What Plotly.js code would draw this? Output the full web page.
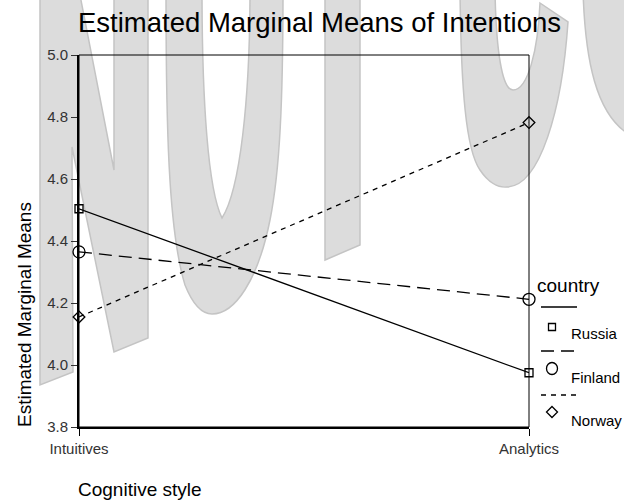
<!DOCTYPE html>
<html>
<head>
<meta charset="utf-8">
<script src="https://cdn.plot.ly/plotly-3.0.1.min.js"></script>
<style>
  html, body { margin: 0; padding: 0; background: #ffffff; }
  #chart { width: 624px; height: 500px; }
</style>
</head>
<body>
<div id="chart"></div>
<script>
// ---------------- data ----------------
const categories = ['Intuitives', 'Analytics'];
const seriesNames = ['Russia', 'Finland', 'Norway'];
const russia = [4.504, 3.975];
const finland = [4.365, 4.212];
const norway = [4.155, 4.782];
const yTickVals = [3.8, 4.0, 4.2, 4.4, 4.6, 4.8, 5.0];
const yTickText = ['3.8', '4.0', '4.2', '4.4', '4.6', '4.8', '5.0'];
const chartTitle = 'Estimated Marginal Means of Intentions';
const xTitle = 'Cognitive style';
const yTitle = 'Estimated Marginal Means';
const legendTitle = 'country';

// ---------------- layout helpers ----------------
const W = 624, H = 500;
const M = { l: 79, r: 95, t: 55, b: 73 };
const PW = W - M.l - M.r, PH = H - M.t - M.b;
const X = px => (px - M.l) / PW;
const Y = py => (H - M.b - py) / PH;
function conv(path) {
  return path.replace(/(-?\d+(?:\.\d+)?),(-?\d+(?:\.\d+)?)/g,
    (m, a, b) => X(+a).toFixed(5) + ',' + Y(+b).toFixed(5));
}

const FONT = 'Liberation Sans, Arial, Helvetica, sans-serif';

const seriesData = [russia, finland, norway];
const styles = [
  { dash: 'solid', symbol: 'square-open', size: 8 },
  { dash: '13px,7px', symbol: 'circle-open', size: 12 },
  { dash: '5px,5px', symbol: 'diamond-open', size: 9 }
];

const traces = seriesNames.map((name, i) => ({
  type: 'scatter',
  mode: 'lines+markers',
  name: name,
  x: categories,
  y: seriesData[i],
  cliponaxis: false,
  showlegend: false,
  line: { color: '#000', width: 1.3, dash: styles[i].dash },
  marker: { symbol: styles[i].symbol, size: styles[i].size,
            color: '#000', line: { color: '#000', width: 1.3 } }
}));

// watermark (background decoration), pixel paths
const wmPaths = [
  'M40,-10 L79,-10 L114,170 L114,-10 L148,-10 L148,338 L114,352 L72,147 L73,372 L40,385 Z',
  'M166,-10 C166,120 168,230 185,285 C193,305 202,314 212,314 C235,314 258,280 270,220 C280,170 283,100 283,-10 Z ' +
  'M250,-10 C250,100 240,190 222,218 C208,190 202,100 202,-10 Z',
  'M325,-10 L360,-10 L360,245 L325,260 Z',
  'M460,-10 C461,90 466,150 480,170 C488,182 498,188 507,187 C540,186 562,110 568,22 L540,3 C538,50 528,90 513,90 C502,90 496,50 495,-10 Z',
  'M583,-10 C585,60 596,115 630,135 L630,-10 Z'
];
const shapes = wmPaths.map(p => ({
  type: 'path', xref: 'paper', yref: 'paper', layer: 'below',
  path: conv(p), fillcolor: '#dcdcdc', line: { color: '#c4c4c4', width: 1.5 }
}));

// plot frame (thin)
shapes.push({ type: 'rect', xref: 'paper', yref: 'paper', x0: 0, x1: 1, y0: 0, y1: 1,
  line: { color: '#000', width: 1 }, layer: 'above' });

// custom legend
const legLineY = [307, 351, 395];
const legMarkY = [327, 368.5, 412];
const legTextY = [333, 377, 420];
const annotations = [];
seriesNames.forEach((name, i) => {
  shapes.push({ type: 'line', xref: 'paper', yref: 'paper',
    x0: X(541), x1: X(577), y0: Y(legLineY[i]), y1: Y(legLineY[i]),
    line: { color: '#000', width: 1.3, dash: styles[i].dash } });
  const cx = 552, cy = legMarkY[i];
  if (i === 0) {
    shapes.push({ type: 'rect', xref: 'paper', yref: 'paper',
      x0: X(cx - 3.5), x1: X(cx + 3.5), y0: Y(cy + 3.5), y1: Y(cy - 3.5),
      line: { color: '#000', width: 1.3 } });
  } else if (i === 1) {
    shapes.push({ type: 'circle', xref: 'paper', yref: 'paper',
      x0: X(cx - 5.5), x1: X(cx + 5.5), y0: Y(cy + 6), y1: Y(cy - 6),
      line: { color: '#000', width: 1.3 } });
  } else {
    shapes.push({ type: 'path', xref: 'paper', yref: 'paper',
      path: conv(`M${cx},${cy - 5.5} L${cx + 5.5},${cy} L${cx},${cy + 5.5} L${cx - 5.5},${cy} Z`),
      line: { color: '#000', width: 1.3 } });
  }
  annotations.push({ xref: 'paper', yref: 'paper', x: X(569), y: Y(legTextY[i]),
    xanchor: 'left', yanchor: 'middle', showarrow: false, text: name,
    font: { family: FONT, size: 15, color: '#000' } });
});
annotations.push({ xref: 'paper', yref: 'paper', x: X(535), y: Y(285),
  xanchor: 'left', yanchor: 'middle', showarrow: false, text: legendTitle,
  font: { family: FONT, size: 19, color: '#000' } });

// axis titles
annotations.push({ xref: 'paper', yref: 'paper', x: X(76), y: Y(489),
  xanchor: 'left', yanchor: 'middle', showarrow: false, text: xTitle,
  font: { family: FONT, size: 19, color: '#000' } });
annotations.push({ xref: 'paper', yref: 'paper', x: X(24), y: Y(315),
  xanchor: 'center', yanchor: 'middle', showarrow: false, text: yTitle, textangle: -90,
  font: { family: FONT, size: 19, color: '#000' } });

const layout = {
  width: W, height: H,
  margin: M,
  paper_bgcolor: '#ffffff',
  plot_bgcolor: 'rgba(0,0,0,0)',
  showlegend: false,
  title: { text: chartTitle, x: 319.5 / W, xanchor: 'center', y: 1 - 22.5 / H, yanchor: 'middle',
           font: { family: FONT, size: 27.5, color: '#000' } },
  font: { family: FONT, color: '#333' },
  xaxis: {
    type: 'category', categoryorder: 'array', categoryarray: categories,
    range: [0, 1], fixedrange: true,
    showline: true, linecolor: '#000', linewidth: 2,
    ticks: 'outside', ticklen: 7, tickwidth: 1, tickcolor: '#000',
    showgrid: false, zeroline: false,
    tickfont: { family: FONT, size: 15, color: '#333' }
  },
  yaxis: {
    range: [3.8, 5.0], tickvals: yTickVals, ticktext: yTickText,
    showline: true, linecolor: '#000', linewidth: 2,
    ticks: 'outside', ticklen: 6, tickwidth: 1, tickcolor: '#333',
    showgrid: false, zeroline: false,
    tickfont: { family: FONT, size: 15, color: '#333' }
  },
  shapes: shapes,
  annotations: annotations
};

Plotly.newPlot('chart', traces, layout, { staticPlot: true, displayModeBar: false });
</script>
</body>
</html>
